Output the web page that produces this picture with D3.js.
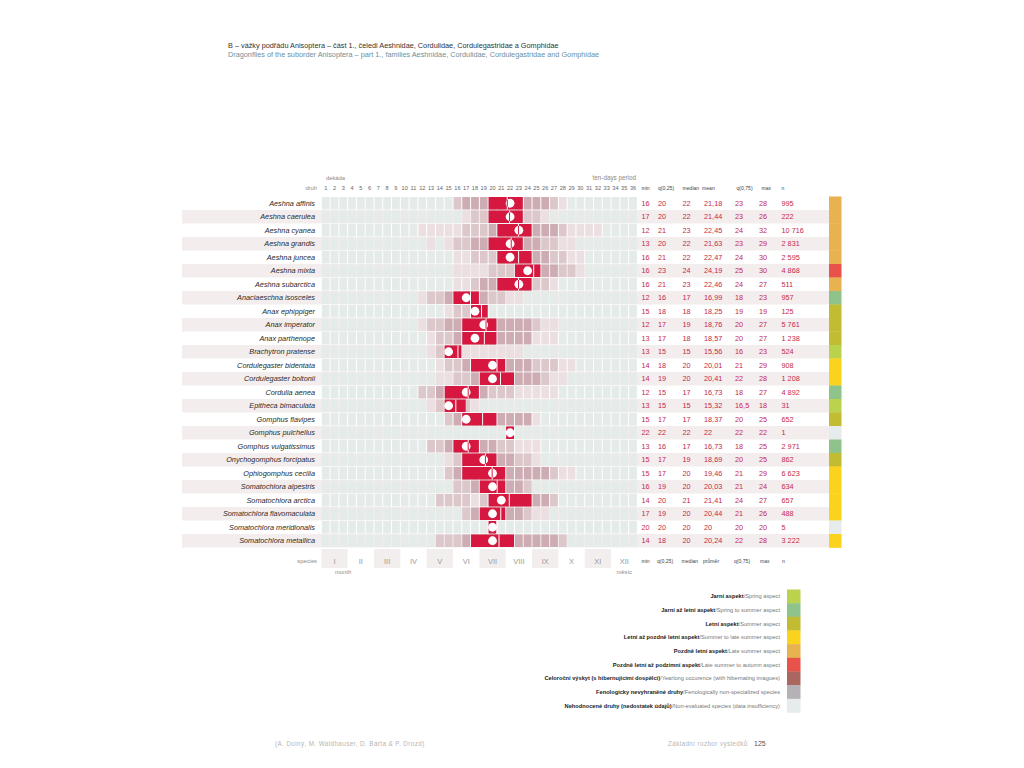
<!DOCTYPE html>
<head>
  <meta charset="utf-8">
  <title>Vážky podřádu Anisoptera – fenologie</title>
  <style>
    body { margin: 0; background: #fff; }
    text { font-family: "Liberation Sans", Arial, sans-serif; }
  </style>
</head>
<body>
  <script src="https://cdn.jsdelivr.net/npm/d3@7"></script>
  <script>

    // species + stats (decades 1..36)
    var species = ["Aeshna affinis", "Aeshna caerulea", "Aeshna cyanea", "Aeshna grandis", "Aeshna juncea",
      "Aeshna mixta", "Aeshna subarctica", "Anaciaeschna isosceles", "Anax ephippiger", "Anax imperator",
      "Anax parthenope", "Brachytron pratense", "Cordulegaster bidentata", "Cordulegaster boltonii",
      "Cordulia aenea", "Epitheca bimaculata", "Gomphus flavipes", "Gomphus pulchellus",
      "Gomphus vulgatissimus", "Onychogomphus forcipatus", "Ophiogomphus cecilia", "Somatochlora alpestris",
      "Somatochlora arctica", "Somatochlora flavomaculata", "Somatochlora meridionalis", "Somatochlora metallica"];
    var minV   = [16, 17, 12, 13, 16, 16, 16, 12, 15, 12, 13, 13, 14, 14, 12, 13, 15, 22, 13, 15, 15, 16, 14, 17, 20, 14];
    var q25V   = [20, 20, 21, 20, 21, 23, 21, 16, 18, 17, 17, 15, 18, 19, 15, 15, 17, 22, 16, 17, 17, 19, 20, 19, 20, 18];
    var medV   = [22, 22, 23, 22, 22, 24, 23, 17, 18, 19, 18, 15, 20, 20, 17, 15, 17, 22, 17, 19, 20, 20, 21, 20, 20, 20];
    var meanV  = [21.18, 21.44, 22.45, 21.63, 22.47, 24.19, 22.46, 16.99, 18.25, 18.76, 18.57, 15.56, 20.01, 20.41,
      16.73, 15.32, 18.37, 22, 16.73, 18.69, 19.46, 20.03, 21.41, 20.44, 20, 20.24];
    var q75V   = [23, 23, 24, 23, 24, 25, 24, 18, 19, 20, 20, 16, 21, 22, 18, 16.5, 20, 22, 18, 20, 21, 21, 24, 21, 20, 22];
    var maxV   = [28, 26, 32, 29, 30, 30, 27, 23, 19, 27, 27, 23, 29, 28, 27, 18, 25, 22, 25, 25, 29, 24, 27, 26, 20, 28];
    var nV     = [995, 222, 10716, 2831, 2595, 4868, 511, 957, 125, 5761, 1238, 524, 908, 1208, 4892, 31, 652, 1,
      2971, 862, 6623, 634, 657, 488, 5, 3222];
    var aspectV = [4, 4, 4, 4, 4, 5, 4, 1, 2, 2, 2, 0, 3, 3, 1, 0, 2, 8, 1, 2, 3, 3, 3, 3, 8, 3];

    // occurrence intensity per decade, from min to max (1-3 pink shades, 4 = core)
    var levels = [
      [2,3,3,3,4,4,4,4,3,3,3,2,1],
      [1,2,2,4,4,4,4,2,2,1],
      [1,1,1,1,1,2,2,2,3,4,4,4,4,3,3,3,2,1,1,1,1],
      [1,0,1,2,2,3,3,4,4,4,4,3,3,2,2,1,1],
      [1,1,2,2,2,4,4,4,4,3,3,2,2,1,1],
      [1,1,1,1,2,2,2,4,4,4,3,3,2,2,1],
      [1,1,2,3,3,4,4,4,4,2,2,1],
      [1,2,2,3,4,4,4,3,2,2,1,1],
      [1,2,2,4,4],
      [1,2,2,3,3,4,4,4,4,3,3,3,3,2,1,1],
      [1,2,2,3,4,4,4,4,3,3,3,3,1,1,1],
      [1,2,4,4,1,1,1,1,1,1,1],
      [1,2,2,3,4,4,4,4,3,3,3,2,2,2,1,1],
      [1,1,2,2,3,4,4,4,4,3,3,3,2,1,1],
      [2,2,3,4,4,4,3,3,2,2,2,1,1,1,1,1],
      [1,2,4,4,2,1],
      [2,3,4,4,4,4,3,3,3,3,1],
      [4],
      [2,2,3,4,4,4,3,3,2,2,1,1,1],
      [1,2,4,4,4,4,3,3,2,2,1],
      [2,3,4,4,4,4,4,3,3,3,3,3,2,1,1],
      [2,2,3,4,4,4,3,3,2],
      [2,2,2,2,1,2,4,4,4,4,4,3,3,2],
      [2,3,4,4,4,3,3,2,1,1],
      [4],
      [2,2,2,3,4,4,4,4,4,3,3,3,3,3,2]
    ];

    var months = ["I", "II", "III", "IV", "V", "VI", "VII", "VIII", "IX", "X", "XI", "XII"];

    var aspectCz = ["Jarní aspekt", "Jarní až letní aspekt", "Letní aspekt", "Letní až pozdně letní aspekt",
      "Pozdně letní aspekt", "Pozdně letní až podzimní aspekt", "Celoroční výskyt (s hibernujícími dospělci)",
      "Fenologicky nevyhraněné druhy", "Nehodnocené druhy (nedostatek údajů)"];
    var aspectEn = ["Spring aspect", "Spring to summer aspect", "Summer aspect", "Summer to late summer aspect",
      "Late summer aspect", "Late summer to autumn aspect", "Yearlong occurence (with hibernating imagoes)",
      "Fenologically non-specialized species", "Non-evaluated species (data insufficiency)"];
    var aspectColors = ["#bad24c", "#8fc38c", "#c2bc33", "#fbd31c", "#e7b24f", "#e8524a", "#a9675f", "#b6b1b6", "#e6ebeb"];

    var levelColors = ["#e5ebe8", "#ebdfe1", "#dcc7cb", "#cdadb3", "#d6173f"];
    var red = "#d6173f";
    var txtRed = "#c4284d";

    var w = 1024, h = 768;
    var svg = d3.select("body").append("svg")
      .attr("width", w)
      .attr("height", h);

    var x = d3.scaleLinear().domain([0, 36]).range([321.3, 637.4]);
    var y = d3.scaleBand().domain(species).range([196.5, 547.5]);
    var cw = x(1) - x(0);
    var rh = y.bandwidth();

    var fmt = d3.formatLocale({decimal: ",", thousands: " ", grouping: [3], currency: ["", ""]});
    var fmtN = fmt.format(",d");
    function fmtDec(v) { return Number.isInteger(v) ? String(v) : String(v).replace(".", ","); }

    // titles
    svg.append("text").attr("x", 228).attr("y", 47.5).style("font-size", "7.3px").attr("fill", "#333")
      .text("B – vážky podřádu Anisoptera – část 1., čeledi Aeshnidae, Cordulidae, Cordulegastridae a Gomphidae");
    svg.append("text").attr("x", 228).attr("y", 56.5).style("font-size", "7.3px").attr("fill", "#6f8f9c")
      .text("Dragonflies of the suborder Anisoptera – part 1., families Aeshnidae, Cordulidae, Cordulegastridae and Gomphidae");

    // row stripes
    svg.selectAll("rect.stripe")
      .data(species.filter(function(d, i) { return i % 2 == 1; }))
      .enter().append("rect")
      .attr("class", "stripe")
      .attr("x", 182).attr("width", 829 - 182)
      .attr("y", function(d) { return y(d); })
      .attr("height", rh)
      .attr("fill", "#f4eded");

    // species labels
    svg.selectAll("text.sp")
      .data(species).enter().append("text")
      .attr("class", "sp")
      .attr("x", 315)
      .attr("y", function(d) { return y(d) + rh / 2 + 2.6; })
      .attr("text-anchor", "end")
      .style("font-size", "7.3px").style("font-style", "italic")
      .attr("fill", "#2a2a2a")
      .text(function(d) { return d; });

    // grid cells
    var cells = [];
    species.forEach(function(s, i) {
      for (var k = 1; k <= 36; k++) {
        var lv = 0;
        if (k >= minV[i] && k <= maxV[i]) lv = levels[i][k - minV[i]];
        if (lv == 4) lv = 3;
        cells.push({s: s, k: k, lv: lv});
      }
    });
    svg.selectAll("rect.cell")
      .data(cells).enter().append("rect")
      .attr("class", "cell")
      .attr("x", function(d) { return x(d.k - 1) + 0.5; })
      .attr("width", cw - 1)
      .attr("y", function(d) { return y(d.s) + 0.5; })
      .attr("height", rh - 1)
      .attr("fill", function(d) { return levelColors[d.lv]; });

    // core period q25..q75
    svg.selectAll("rect.core")
      .data(species).enter().append("rect")
      .attr("class", "core")
      .attr("x", function(d, i) { return x(q25V[i] - 1) + 0.5; })
      .attr("width", function(d, i) { return x(q75V[i]) - x(q25V[i] - 1) - 1; })
      .attr("y", function(d) { return y(d) + 0.5; })
      .attr("height", rh - 1)
      .attr("fill", red);

    // mean line
    svg.selectAll("line.mean")
      .data(species).enter().append("line")
      .attr("class", "mean")
      .attr("x1", function(d, i) { return x(meanV[i]); })
      .attr("x2", function(d, i) { return x(meanV[i]); })
      .attr("y1", function(d) { return y(d) + 0.5; })
      .attr("y2", function(d) { return y(d) + rh - 0.5; })
      .attr("stroke", "#fff").attr("stroke-width", 1);

    // median dot
    var r = 4.4;
    svg.selectAll("circle.med")
      .data(species).enter().append("circle")
      .attr("class", "med")
      .attr("cx", function(d, i) { return x(medV[i] - 0.5); })
      .attr("cy", function(d) { return y(d) + rh / 2; })
      .attr("r", r)
      .attr("fill", "#fff");

    // mean line where it crosses the dot
    svg.selectAll("line.meanIn")
      .data(species.filter(function(d, i) { return Math.abs(x(meanV[i]) - x(medV[i] - 0.5)) < r - 0.3; }))
      .enter().append("line")
      .attr("class", "meanIn")
      .each(function(d) {
        var i = species.indexOf(d);
        var dx = x(meanV[i]) - x(medV[i] - 0.5);
        var hh = Math.sqrt(r * r - dx * dx);
        d3.select(this)
          .attr("x1", x(meanV[i])).attr("x2", x(meanV[i]))
          .attr("y1", y(d) + rh / 2 - hh).attr("y2", y(d) + rh / 2 + hh);
      })
      .attr("stroke", red).attr("stroke-width", 1);

    // stats columns
    var statCols = [
      {vals: minV, x: 641.5, f: fmtDec},
      {vals: q25V, x: 658, f: fmtDec},
      {vals: medV, x: 682.5, f: fmtDec},
      {vals: meanV, x: 704, f: fmtDec},
      {vals: q75V, x: 735, f: fmtDec},
      {vals: maxV, x: 759, f: fmtDec},
      {vals: nV, x: 781.5, f: fmtN}
    ];
    statCols.forEach(function(c) {
      svg.append("g").selectAll("text")
        .data(species).enter().append("text")
        .attr("x", c.x)
        .attr("y", function(d) { return y(d) + rh / 2 + 2.6; })
        .style("font-size", "7.3px")
        .attr("fill", txtRed)
        .text(function(d, i) { return c.f(c.vals[i]); });
    });

    // aspect colour bar
    svg.selectAll("rect.asp")
      .data(species).enter().append("rect")
      .attr("class", "asp")
      .attr("x", 829).attr("width", 12.5)
      .attr("y", function(d) { return y(d); })
      .attr("height", rh + 0.3)
      .attr("fill", function(d, i) { return aspectColors[aspectV[i]]; });

    // header
    var gray = "#8a8a8a";
    svg.append("text").attr("x", 326).attr("y", 179.5).style("font-size", "5.8px").attr("fill", gray).text("dekáda");
    svg.append("text").attr("x", 636).attr("y", 179.5).attr("text-anchor", "end").style("font-size", "6.3px").attr("fill", gray).text("ten-days period");
    svg.append("text").attr("x", 317).attr("y", 189.5).attr("text-anchor", "end").style("font-size", "5.8px").attr("fill", gray).text("druh");
    svg.append("g").selectAll("text")
      .data(d3.range(1, 37)).enter().append("text")
      .attr("x", function(d) { return x(d - 0.5); })
      .attr("y", 189.5)
      .attr("text-anchor", "middle")
      .style("font-size", "5.6px")
      .attr("fill", "#666")
      .text(function(d) { return d; });

    var headTop = ["min", "q(0,25)", "median", "mean", "q(0,75)", "max", "n"];
    var headTopX = [641.5, 658, 682.5, 702, 736.5, 761.5, 781.5];
    var headBot = ["min", "q(0,25)", "median", "průměr", "q(0,75)", "max", "n"];
    var headBotX = [641.5, 657, 681.5, 703, 734, 760, 782];
    svg.append("g").selectAll("text")
      .data(headTop).enter().append("text")
      .attr("x", function(d, i) { return headTopX[i]; })
      .attr("y", 189.5).style("font-size", "5.1px").attr("fill", "#444")
      .text(function(d) { return d; });
    svg.append("g").selectAll("text")
      .data(headBot).enter().append("text")
      .attr("x", function(d, i) { return headBotX[i]; })
      .attr("y", 563).style("font-size", "5.1px").attr("fill", "#444")
      .text(function(d) { return d; });

    // months
    svg.append("g").selectAll("rect")
      .data(months.filter(function(d, i) { return i % 2 == 0; })).enter().append("rect")
      .attr("x", function(d) { return x(months.indexOf(d) * 3); })
      .attr("width", cw * 3)
      .attr("y", 549).attr("height", 19)
      .attr("fill", "#f3eeee");
    svg.append("g").selectAll("text")
      .data(months).enter().append("text")
      .attr("x", function(d, i) { return x(i * 3 + 1.5); })
      .attr("y", 564)
      .attr("text-anchor", "middle")
      .style("font-size", "7.5px")
      .attr("fill", "#9a9a9a")
      .text(function(d) { return d; });
    svg.append("text").attr("x", 317).attr("y", 563).attr("text-anchor", "end").style("font-size", "5.8px").attr("fill", gray).text("species");
    svg.append("text").attr("x", 335).attr("y", 574).style("font-size", "5.8px").attr("fill", gray).text("month");
    svg.append("text").attr("x", 632).attr("y", 574).attr("text-anchor", "end").style("font-size", "5.8px").attr("fill", gray).text("měsíc");

    // legend
    var ly = d3.scaleBand().domain(d3.range(9)).range([589.5, 712.5]);
    svg.append("g").selectAll("rect")
      .data(aspectColors).enter().append("rect")
      .attr("x", 787).attr("width", 13.5)
      .attr("y", function(d, i) { return ly(i); })
      .attr("height", ly.bandwidth() + 0.3)
      .attr("fill", function(d) { return d; });
    var lt = svg.append("g").selectAll("text")
      .data(aspectCz).enter().append("text")
      .attr("x", 780)
      .attr("y", function(d, i) { return ly(i) + ly.bandwidth() / 2 + 2; })
      .attr("text-anchor", "end")
      .style("font-size", "5.7px");
    lt.append("tspan").attr("fill", "#222").style("font-weight", "bold").text(function(d) { return d; });
    lt.append("tspan").attr("fill", "#777").text(function(d, i) { return "/" + aspectEn[i]; });

    // footer
    svg.append("text").attr("x", 275).attr("y", 746).style("font-size", "6.3px").attr("fill", "#b5b5b5").style("letter-spacing", "0.4px")
      .text("(A. Dolný, M. Waldhauser, D. Bárta & P. Drozd)");
    svg.append("text").attr("x", 668).attr("y", 746).style("font-size", "6.3px").attr("fill", "#b5b5b5").style("letter-spacing", "0.4px")
      .text("Základní rozbor výsledků");
    svg.append("text").attr("x", 754).attr("y", 746).style("font-size", "7px").attr("fill", "#555")
      .text("125");

  </script>
</body>
